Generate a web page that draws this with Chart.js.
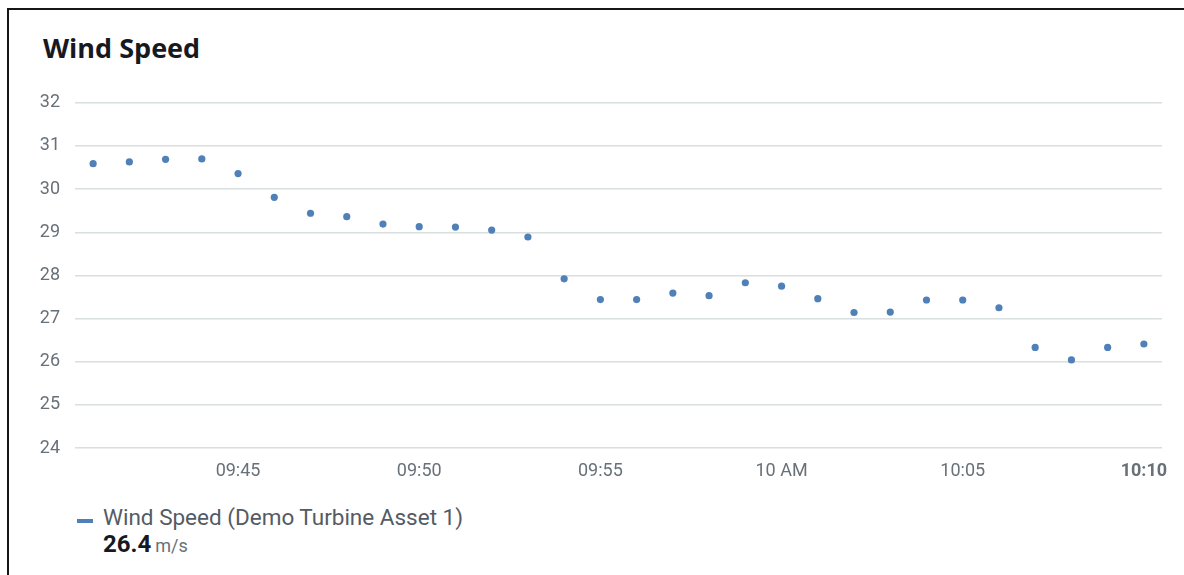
<!DOCTYPE html>
<html>
<head>
<meta charset="utf-8">
<script src="https://cdn.jsdelivr.net/npm/chart.js@4"></script>
<style>
  html, body { margin: 0; padding: 0; background: #fff; }
  body { width: 1184px; height: 575px; position: relative; overflow: hidden; }
  .frame {
    position: absolute; left: 7px; top: 8px; right: 0; bottom: 0;
    border-top: 2px solid #161616; border-left: 2px solid #161616;
  }
  .title {
    position: absolute; left: 43px; top: 29px;
    font: bold 27px "Open Sans", "Noto Sans", sans-serif; color: #16191f;
  }
  #chart-wrap { position: absolute; left: 0; top: 77px; width: 1184px; height: 413px; }
  .legend { position: absolute; left: 77px; top: 504px; font-family: Roboto, sans-serif; }
  .legend .swatch { position: absolute; left: 0; top: 15px; width: 16px; height: 4px; background: #4f80b8; }
  .legend .name { position: absolute; left: 26px; top: 0; font-size: 22.5px; color: #545b64; white-space: nowrap; }
  .legend .value { position: absolute; left: 26px; top: 26px; white-space: nowrap; }
  .legend .value b { font-size: 24px; color: #16191f; }
  .legend .value span { font-size: 18px; color: #687078; }
</style>
</head>
<body>
<div class="frame"></div>
<div class="title">Wind Speed</div>
<div id="chart-wrap"><canvas id="wind-chart"></canvas></div>
<div class="legend">
  <div class="swatch"></div>
  <div class="name" id="legend-name"></div>
  <div class="value"><b id="legend-value"></b> <span id="legend-unit"></span></div>
</div>
<script>
const times = [
  '09:41', '09:42', '09:43', '09:44', '09:45', '09:46', '09:47', '09:48', '09:49', '09:50',
  '09:51', '09:52', '09:53', '09:54', '09:55', '09:56', '09:57', '09:58', '09:59', '10:00',
  '10:01', '10:02', '10:03', '10:04', '10:05', '10:06', '10:07', '10:08', '10:09', '10:10'
];
const windSpeed = [
  30.59, 30.63, 30.69, 30.70, 30.36, 29.81, 29.44, 29.36, 29.19, 29.13,
  29.12, 29.05, 28.89, 27.92, 27.44, 27.44, 27.59, 27.53, 27.83, 27.75,
  27.46, 27.14, 27.15, 27.43, 27.43, 27.25, 26.33, 26.04, 26.33, 26.41
];
const tickTimes = ['09:45', '09:50', '09:55', '10:00', '10:05', '10:10'];
const tickLabels = ['09:45', '09:50', '09:55', '10 AM', '10:05', '10:10'];
const yTicks = [24, 25, 26, 27, 28, 29, 30, 31, 32];

const seriesName = 'Wind Speed (Demo Turbine Asset 1)';
const unit = 'm/s';

// minutes depuis 09:00
function toMinutes(t) {
    const parts = t.split(':');
    return (parseInt(parts[0], 10) - 9) * 60 + parseInt(parts[1], 10);
}

const points = times.map((t, i) => ({ x: toMinutes(t), y: windSpeed[i] }));
const xMin = toMinutes(times[0]) - 0.5;
const xMax = toMinutes(times[times.length - 1]) + 0.5;

// Légende
document.getElementById('legend-name').textContent = seriesName;
document.getElementById('legend-value').textContent = windSpeed[windSpeed.length - 1].toFixed(1);
document.getElementById('legend-unit').textContent = unit;

const ctx = document.getElementById('wind-chart').getContext('2d');
const chart = new Chart(ctx, {
    type: 'scatter',
    data: {
        datasets: [
            {
                label: seriesName,
                data: points,
                backgroundColor: '#4f80b8',
                borderColor: '#4f80b8',
                pointRadius: 3.6,
                pointBorderWidth: 0
            }
        ]
    },
    options: {
        responsive: true,
        maintainAspectRatio: false,
        animation: false,
        layout: {
            padding: { left: 0, right: 22, top: 8, bottom: 0 }
        },
        plugins: {
            legend: { display: false },
            tooltip: { enabled: false }
        },
        scales: {
            x: {
                type: 'linear',
                min: xMin,
                max: xMax,
                border: { display: false },
                grid: { display: false, drawTicks: false },
                afterBuildTicks: function(scale) {
                    scale.ticks = tickTimes.map(t => ({ value: toMinutes(t) }));
                },
                afterFit: function(scale) {
                    scale.height = 42;
                },
                ticks: {
                    autoSkip: false,
                    maxRotation: 0,
                    padding: 13,
                    color: '#687078',
                    font: function(c) {
                        const last = c.index === tickTimes.length - 1;
                        return { family: 'Roboto', size: 18, weight: last ? 'bold' : 'normal' };
                    },
                    callback: function(value, index) {
                        return tickLabels[index];
                    }
                }
            },
            y: {
                min: yTicks[0],
                max: yTicks[yTicks.length - 1],
                border: { display: false },
                grid: {
                    color: '#d9dede',
                    lineWidth: 1.5,
                    drawTicks: false
                },
                afterBuildTicks: function(scale) {
                    scale.ticks = yTicks.map(v => ({ value: v }));
                },
                afterFit: function(scale) {
                    scale.width = 75;
                },
                ticks: {
                    padding: 15,
                    color: '#687078',
                    font: { family: 'Roboto', size: 18 }
                }
            }
        }
    }
});
</script>
</body>
</html>
